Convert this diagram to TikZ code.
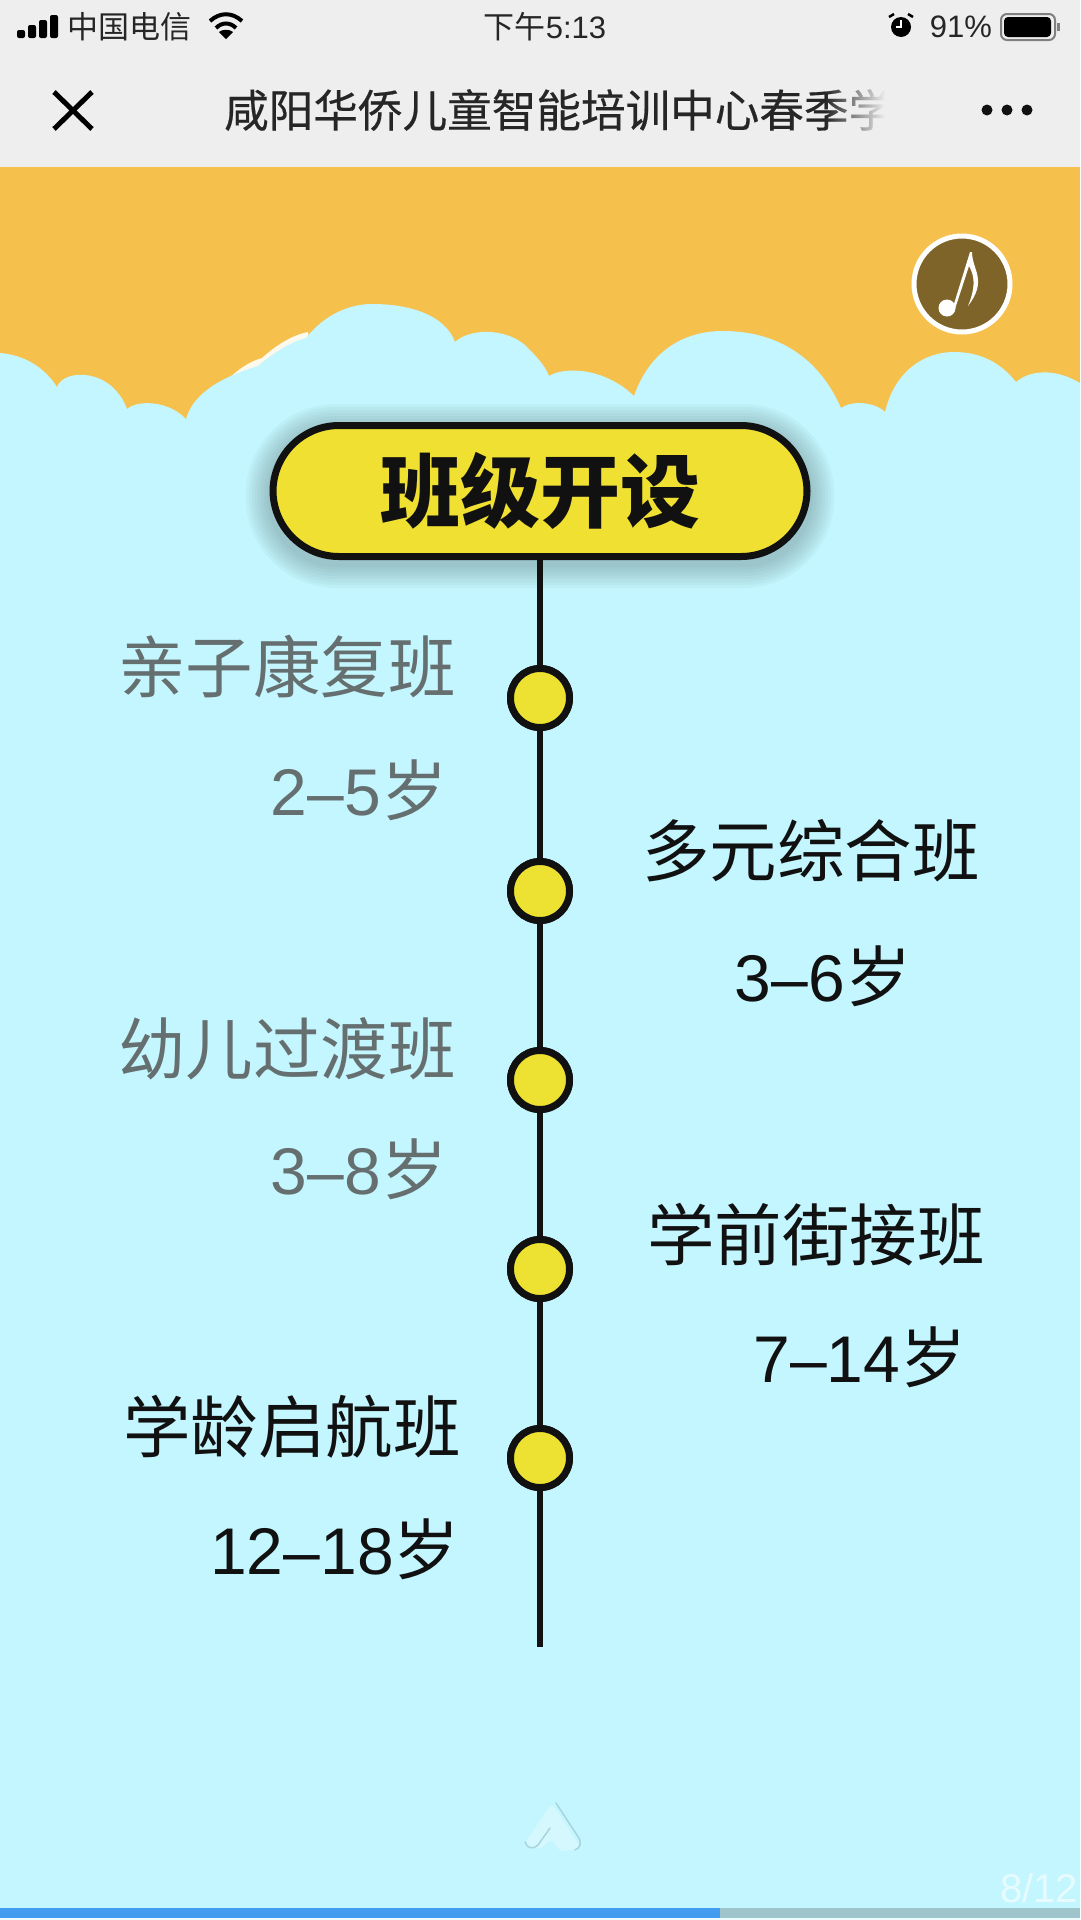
\documentclass[tikz,border=0pt]{standalone}
\usepackage{fontspec}
\setmainfont{Noto Sans CJK SC}
\newfontfamily\latinf{Liberation Sans}
\newfontfamily\medcjk[FakeBold=0.4]{Noto Sans CJK SC}
\usetikzlibrary{fadings}
\definecolor{topgray}{HTML}{EEEEEE}
\definecolor{sky}{HTML}{C3F6FE}
\definecolor{orangebg}{HTML}{F6C04D}
\definecolor{pillyellow}{HTML}{F0E031}
\definecolor{dotyellow}{HTML}{EDE232}
\definecolor{greytext}{HTML}{666F70}
\definecolor{brownm}{HTML}{7E6428}
\definecolor{inkc}{HTML}{111111}
\definecolor{barblue}{HTML}{429CEF}
\definecolor{bargrey}{HTML}{9FC4CB}
\newcommand{\agetxt}[2]{{\latinf #1}#2}
\tikzset{
  x=1pt,y=-1pt,
  statustext/.style={font=\fontsize{31}{31}\selectfont,text=black!85,inner sep=0},
  titletext/.style={font=\medcjk\fontsize{44.6}{45}\selectfont,text=black!85,inner sep=0,anchor=west},
  namegrey/.style={font=\fontsize{67.5}{68}\selectfont,text=greytext,inner sep=0},
  nameblack/.style={font=\fontsize{67.5}{68}\selectfont,text=inkc,inner sep=0},
  agegrey/.style={font=\fontsize{66}{66}\selectfont,text=greytext,inner sep=0},
  ageblack/.style={font=\fontsize{66}{66}\selectfont,text=inkc,inner sep=0},
  stopdot/.style={circle,draw=inkc,line width=7pt,fill=dotyellow,minimum size=59pt,inner sep=0},
  spine/.style={draw=inkc,line width=6pt},
  pillbox/.style={rounded corners=66pt,draw=inkc,line width=7pt,fill=pillyellow,minimum width=534pt,minimum height=131pt,inner sep=0,font=\fontsize{80}{80}\selectfont\bfseries,text=inkc},
}
\begin{document}
\begin{tikzpicture}
\useasboundingbox (0,0) rectangle (1080,1920);
% backgrounds
\fill[sky] (0,0) rectangle (1080,1920);
\fill[orangebg] (0,165) rectangle (1080,440);
\fill[topgray] (0,0) rectangle (1080,167);
% cloud highlight
\fill[white!90!orangebg] (228,379) .. controls (238,370) and (248,362) .. (262,358) .. controls (275,346) and (292,335) .. (308,332) -- (310,345) -- (240,385) -- cycle;
% cloud
\fill[sky]
  (0,353) .. controls (25,355) and (45,368) .. (57,387)
  .. controls (64,368) and (112,368) .. (127,409)
  .. controls (137,400) and (168,400) .. (186,419)
  .. controls (192,398) and (212,380) .. (258,366)
  .. controls (272,354) and (290,342) .. (306,338)
  .. controls (325,314) and (350,304) .. (372,304)
  .. controls (410,304) and (445,315) .. (455,342)
  .. controls (470,328) and (505,328) .. (525,345)
  .. controls (535,355) and (545,365) .. (549,376)
  .. controls (565,366) and (605,368) .. (634,396)
  .. controls (650,350) and (685,331) .. (723,331)
  .. controls (780,331) and (820,360) .. (841,408)
  .. controls (852,400) and (875,402) .. (885,412)
  .. controls (895,370) and (925,352) .. (954,352)
  .. controls (980,352) and (1000,362) .. (1016,382)
  .. controls (1030,370) and (1055,368) .. (1080,383)
  -- (1080,600) -- (0,600) -- cycle;
% status bar
\foreach \bx/\bt in {17/30,28/25,39/20,50/15}
  \fill[black,rounded corners=2pt] (\bx,\bt) rectangle ++(8,38-\bt);
\node[statustext] (carrier) at (129,27) {中国电信};
\draw[black,line width=4pt] (210,21) .. controls (220,12) and (232,12) .. (242,21);
\draw[black,line width=4pt] (216,28) .. controls (222,22) and (230,22) .. (236,28);
\fill[black] (226,39) -- (219,32) .. controls (223,29) and (229,29) .. (233,32) -- cycle;
\node[statustext] (clock) at (545,27) {下午{\latinf 5:13}};
\fill[black] (901,27) circle (10);
\draw[white,line width=1.5pt] (901,20) -- (901,27) -- (896,27);
\draw[black,line width=2.5pt] (889,17) -- (894,14);
\draw[black,line width=2.5pt] (913,17) -- (908,14);
\node[statustext,font=\latinf\fontsize{31}{31}\selectfont] (battpct) at (961,27) {91\%};
\draw[black!50,line width=2pt,rounded corners=6pt] (1001,14) rectangle (1055,40);
\fill[black,rounded corners=4pt] (1004,17) rectangle (1051,37);
\fill[black!50] (1057,23) rectangle (1060,31);
% nav bar
\draw[black,line width=5pt] (54,92) -- (92,129);
\draw[black,line width=5pt] (92,92) -- (54,129);
\node[titletext] (title) at (224,110) {咸阳华侨儿童智能培训中心春季学};
\fill[topgray,path fading=west] (825,80) rectangle (885,140);
\fill[topgray] (885,80) rectangle (960,140);
\fill[inkc] (987,110) circle (5.5);
\fill[inkc] (1007,110) circle (5.5);
\fill[inkc] (1027,110) circle (5.5);
% music button
\node[circle,draw=white,line width=5pt,fill=brownm,minimum size=96pt,inner sep=0] (music) at (962,284) {};
\fill[white] (947,308) circle (8.5);
\fill[white] (953,307) -- (970,252) -- (972,252) .. controls (972,270) and (988,280) .. (968,306)
  .. controls (978,282) and (972,272) .. (969,266) -- (955,309) -- cycle;
% pill shadow
\foreach \g in {24,21,18,15,12,9,6,3}
  \fill[black!55!sky,opacity=0.05,rounded corners=66pt+\g] (270-\g,428-\g) rectangle (810+\g,564+\g);
% spine and stops
\node[pillbox] (pill) at (540,491) {班级开设};
\node[stopdot] (s1) at (540,698) {};
\node[stopdot] (s2) at (540,891) {};
\node[stopdot] (s3) at (540,1080) {};
\node[stopdot] (s4) at (540,1269) {};
\node[stopdot] (s5) at (540,1458) {};
\coordinate (spineend) at (540,1647);
\path[spine] (pill.south) -- (s1);
\path[spine] (s1) -- (s2);
\path[spine] (s2) -- (s3);
\path[spine] (s3) -- (s4);
\path[spine] (s4) -- (s5);
\path[spine] (s5) -- (spineend);
\node[stopdot] at (s1) {};
\node[stopdot] at (s2) {};
\node[stopdot] at (s3) {};
\node[stopdot] at (s4) {};
\node[stopdot] at (s5) {};
% labels
\node[namegrey] (n1) at (287,667) {亲子康复班};
\node[agegrey] (a1) at (359,790) {\agetxt{2–5}{岁}};
\node[nameblack] (n2) at (811,851) {多元综合班};
\node[ageblack] (a2) at (823,976) {\agetxt{3–6}{岁}};
\node[namegrey] (n3) at (287,1049) {幼儿过渡班};
\node[agegrey] (a3) at (359,1169) {\agetxt{3–8}{岁}};
\node[nameblack] (n4) at (816,1235) {学前街接班};
\node[ageblack] (a4) at (860,1357) {\agetxt{7–14}{岁}};
\node[nameblack] (n5) at (292,1427) {学龄启航班};
\node[ageblack] (a5) at (335,1549) {\agetxt{12–18}{岁}};
% scroll arrow
\fill[white,opacity=0.3,rounded corners=6pt] (552,1803) -- (581,1848) -- (560,1852) -- (552,1838) -- (540,1850) -- (524,1844) -- cycle;
\draw[black!14!sky,line width=1.5pt,line cap=round] (556,1803) -- (577,1835) .. controls (583,1843) and (580,1848) .. (575,1850);
\draw[black!14!sky,line width=1.5pt,line cap=round] (550,1828) -- (538,1845) .. controls (532,1850) and (527,1848) .. (525,1842);
% page number and progress
\node[inner sep=0,text=white,opacity=0.6,font=\latinf\fontsize{40}{40}\selectfont] (page) at (1039,1888) {8/12};
\fill[bargrey] (720,1908) rectangle (1080,1918);
\fill[barblue] (0,1908) rectangle (720,1918);
\fill[white!70!sky] (0,1918) rectangle (1080,1920);
\end{tikzpicture}
\end{document}
